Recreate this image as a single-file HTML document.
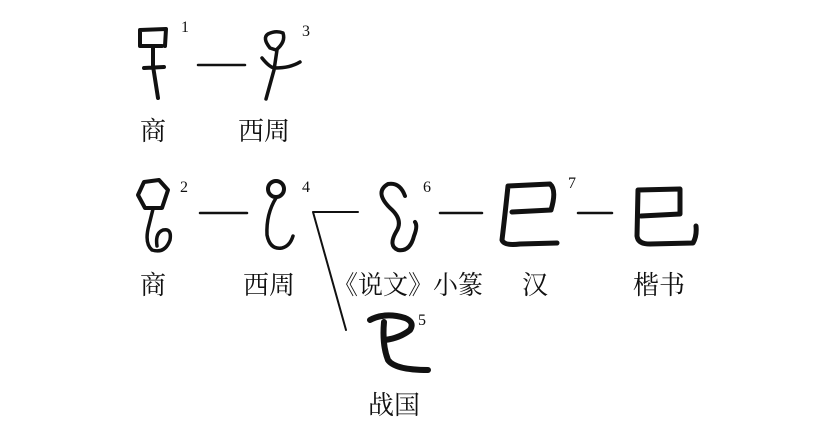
<!DOCTYPE html>
<html><head><meta charset="utf-8"><style>
html,body{margin:0;padding:0;background:#fff;}
svg{display:block}
text{font-family:"Liberation Serif","Noto Serif CJK SC",serif;fill:#111}
.l{font-size:26px;font-weight:normal}
.n{font-size:16px}
</style></head><body>
<svg width="837" height="448" viewBox="0 0 837 448" xmlns="http://www.w3.org/2000/svg">
<g fill="none" stroke="#111" stroke-linecap="round" stroke-linejoin="round">
<path d="M140 30 L140 46 L162 46 M140 30 L166 29 L165 46" stroke-width="4"/>
<path d="M144 68 L164 67 M153 46 L153 66 L158 98" stroke-width="4"/>
<path d="M198 65 L245 65" stroke-width="2.5"/>
<path d="M268 34 Q262 38 270 48 L276 50 Q286 42 283 33 Q276 30 268 34 Z" stroke-width="3.5"/>
<path d="M277 50 L274 70 L266 99 M262 58 Q270 68 275 68 Q290 68 300 62" stroke-width="3.5"/>
<path d="M144 182 L159 180 L168 190 L162 208 L145 208 L138 195 Z" stroke-width="4"/>
<path d="M153 209 L149 225 Q144 243 152 250 Q165 254 170 240 Q172 228 163 230 Q155 233 157 246" stroke-width="3.5"/>
<path d="M200 213 L247 213" stroke-width="2.5"/>
<circle cx="276" cy="189" r="8" stroke-width="4"/>
<path d="M276 198 Q266 214 267 235 Q270 250 282 248 Q290 246 293 236" stroke-width="3.5"/>
<path d="M313 212 L358 212 M313 212 L346 330" stroke-width="2"/>
<path d="M405 196 Q400 182 388 184 Q374 192 390 208 Q404 220 396 232 Q388 246 398 250 Q410 252 414 236 Q418 226 415 222" stroke-width="4"/>
<path d="M440 213 L482 213" stroke-width="2.5"/>
<path d="M508 186 L550 184 Q557 190 551 210 L512 212 M508 186 Q505 215 502 240 Q504 246 520 244 L557 243" stroke-width="5"/>
<path d="M578 213 L612 213" stroke-width="2.5"/>
<path d="M638 190 L680 189 L680 214 L641 216 M638 190 L637 236 Q638 244 650 244 L693 243 Q697 236 696 226" stroke-width="5"/>
<path d="M370 320 Q385 312 405 318 Q415 322 410 330 Q400 338 385 340" stroke-width="6"/>
<path d="M384 322 Q382 345 388 360 Q395 370 428 370" stroke-width="6"/>
</g>
<text class="n" x="181" y="32">1</text>
<text class="n" x="302" y="36">3</text>
<text class="n" x="180" y="192">2</text>
<text class="n" x="302" y="192">4</text>
<text class="n" x="423" y="192">6</text>
<text class="n" x="568" y="188">7</text>
<text class="n" x="418" y="325">5</text>
<text class="l" x="140" y="140">商</text>
<text class="l" x="238" y="140">西周</text>
<text class="l" x="140" y="294">商</text>
<text class="l" x="243" y="294">西周</text>
<text class="l" x="333" y="294" textLength="150" lengthAdjust="spacingAndGlyphs">《说文》小篆</text>
<text class="l" x="522" y="294">汉</text>
<text class="l" x="633" y="294">楷书</text>
<text class="l" x="368" y="414">战国</text>
</svg>
</body></html>
